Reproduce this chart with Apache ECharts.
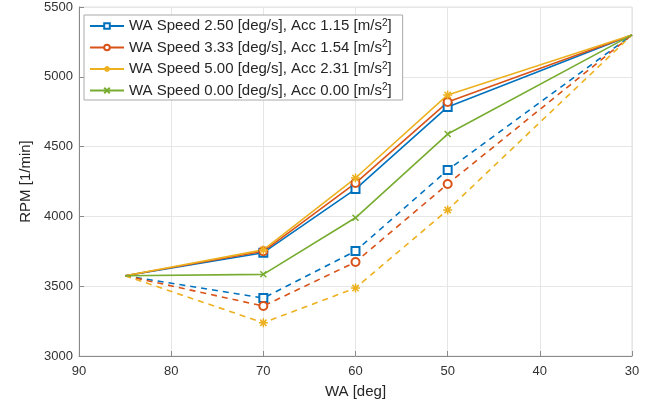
<!DOCTYPE html>
<html lang="en">

<head>
    <meta charset="UTF-8">
    <style>
        html, body { margin: 0; padding: 0; background: #fff; }
        #main { width: 670px; height: 410px; }
    </style>
    <title>RPM vs WA</title>
</head>

<body>
    <div id="main"></div>
    <script src="https://cdn.jsdelivr.net/npm/echarts@6/dist/echarts.min.js"></script>
    <script>
        // WA angles where points were measured
        var wa = [85, 70, 60, 50, 30];

        // solid lines
        var rpmSolid250 = [3575, 3740, 4196, 4784, 5300];
        var rpmSolid333 = [3575, 3750, 4239, 4819, 5300];
        var rpmSolid500 = [3575, 3760, 4275, 4870, 5300];
        var rpmSolid000 = [3575, 3585, 3990, 4590, 5300];

        // dashed lines
        var rpmDash250 = [3575, 3415, 3752, 4332, 5300];
        var rpmDash333 = [3575, 3358, 3673, 4232, 5300];
        var rpmDash500 = [3575, 3238, 3487, 4046, 5300];

        var legendNames = [
            'WA Speed 2.50 [deg/s], Acc 1.15 [m/s{sup|2}]',
            'WA Speed 3.33 [deg/s], Acc 1.54 [m/s{sup|2}]',
            'WA Speed 5.00 [deg/s], Acc 2.31 [m/s{sup|2}]',
            'WA Speed 0.00 [deg/s], Acc 0.00 [m/s{sup|2}]'
        ];

        var colors = ['#0072BD', '#D95319', '#EDB120', '#77AC30'];

        var symAsterisk = 'path://M5,0 L5,10 M0,5 L10,5 M1.5,1.5 L8.5,8.5 M8.5,1.5 L1.5,8.5';
        var symCross = 'path://M0,0 L10,10 M10,0 L0,10';
        var symbols = ['emptyRect', 'emptyCircle', symAsterisk, symCross];

        function pts(vals) {
            // markers only on the inner points
            return wa.map(function (x, i) {
                var p = { value: [x, vals[i]] };
                if (i === 0 || i === wa.length - 1) p.symbol = 'none';
                return p;
            });
        }

        function makeSeries(name, vals, idx, dashed) {
            var open = idx >= 2;
            return {
                name: name,
                type: 'line',
                data: pts(vals),
                symbol: symbols[idx],
                symbolSize: idx === 3 ? 6 : (idx === 2 ? 9 : 8),
                showAllSymbol: true,
                color: colors[idx],
                lineStyle: {
                    width: 1.6,
                    color: colors[idx],
                    type: dashed ? [6, 5] : 'solid'
                },
                itemStyle: open ? {
                    color: 'transparent',
                    borderColor: colors[idx],
                    borderWidth: 1.5
                } : {
                    color: colors[idx],
                    borderWidth: 1.5
                },
                emphasis: { disabled: true },
                z: dashed ? 2 : 3
            };
        }

        var series = [
            makeSeries(legendNames[0], rpmSolid250, 0, false),
            makeSeries(legendNames[1], rpmSolid333, 1, false),
            makeSeries(legendNames[2], rpmSolid500, 2, false),
            makeSeries(legendNames[3], rpmSolid000, 3, false),
            makeSeries('dash250', rpmDash250, 0, true),
            makeSeries('dash333', rpmDash333, 1, true),
            makeSeries('dash500', rpmDash500, 2, true)
        ];

        var option = {
            backgroundColor: '#fff',
            animation: false,
            textStyle: { fontFamily: 'Liberation Sans' },
            grid: {
                left: 79,
                right: 38,
                top: 7,
                bottom: 54,
                show: true,
                borderColor: '#e0e0e0',
                borderWidth: 1
            },
            legend: {
                data: legendNames,
                orient: 'vertical',
                left: 84,
                top: 15,
                padding: [3, 11, 2, 5],
                itemGap: 6,
                itemWidth: 34,
                itemHeight: 7,
                backgroundColor: '#fff',
                borderColor: '#aaa',
                borderWidth: 1,
                textStyle: {
                    fontSize: 15,
                    color: '#262626',
                    rich: {
                        sup: { fontSize: 10, verticalAlign: 'top', padding: [0, 0, 6, 0], color: '#262626' }
                    }
                }
            },
            xAxis: {
                type: 'value',
                inverse: true,
                min: 30,
                max: 90,
                interval: 10,
                name: 'WA [deg]',
                nameLocation: 'middle',
                nameGap: 28,
                nameTextStyle: { fontSize: 15, color: '#262626' },
                axisLine: { show: true, lineStyle: { color: '#8a8a8a' } },
                axisTick: { show: true, inside: true, length: 5, lineStyle: { color: '#8a8a8a' } },
                axisLabel: { fontSize: 13, color: '#333', margin: 9 },
                splitLine: { show: true, lineStyle: { color: '#e6e6e6' } }
            },
            yAxis: {
                type: 'value',
                min: 3000,
                max: 5500,
                interval: 500,
                name: 'RPM [1/min]',
                nameLocation: 'middle',
                nameGap: 42,
                nameTextStyle: { fontSize: 15, color: '#262626' },
                axisLine: { show: true, lineStyle: { color: '#8a8a8a' } },
                axisTick: { show: true, inside: true, length: 5, lineStyle: { color: '#8a8a8a' } },
                axisLabel: {
                    fontSize: 13,
                    color: '#333',
                    margin: 6,
                    formatter: function (v) { return String(v); }
                },
                splitLine: { show: true, lineStyle: { color: '#e6e6e6' } }
            },
            series: series
        };

        var myChart = echarts.init(document.getElementById('main'));
        myChart.setOption(option);
    </script>
</body>

</html>
